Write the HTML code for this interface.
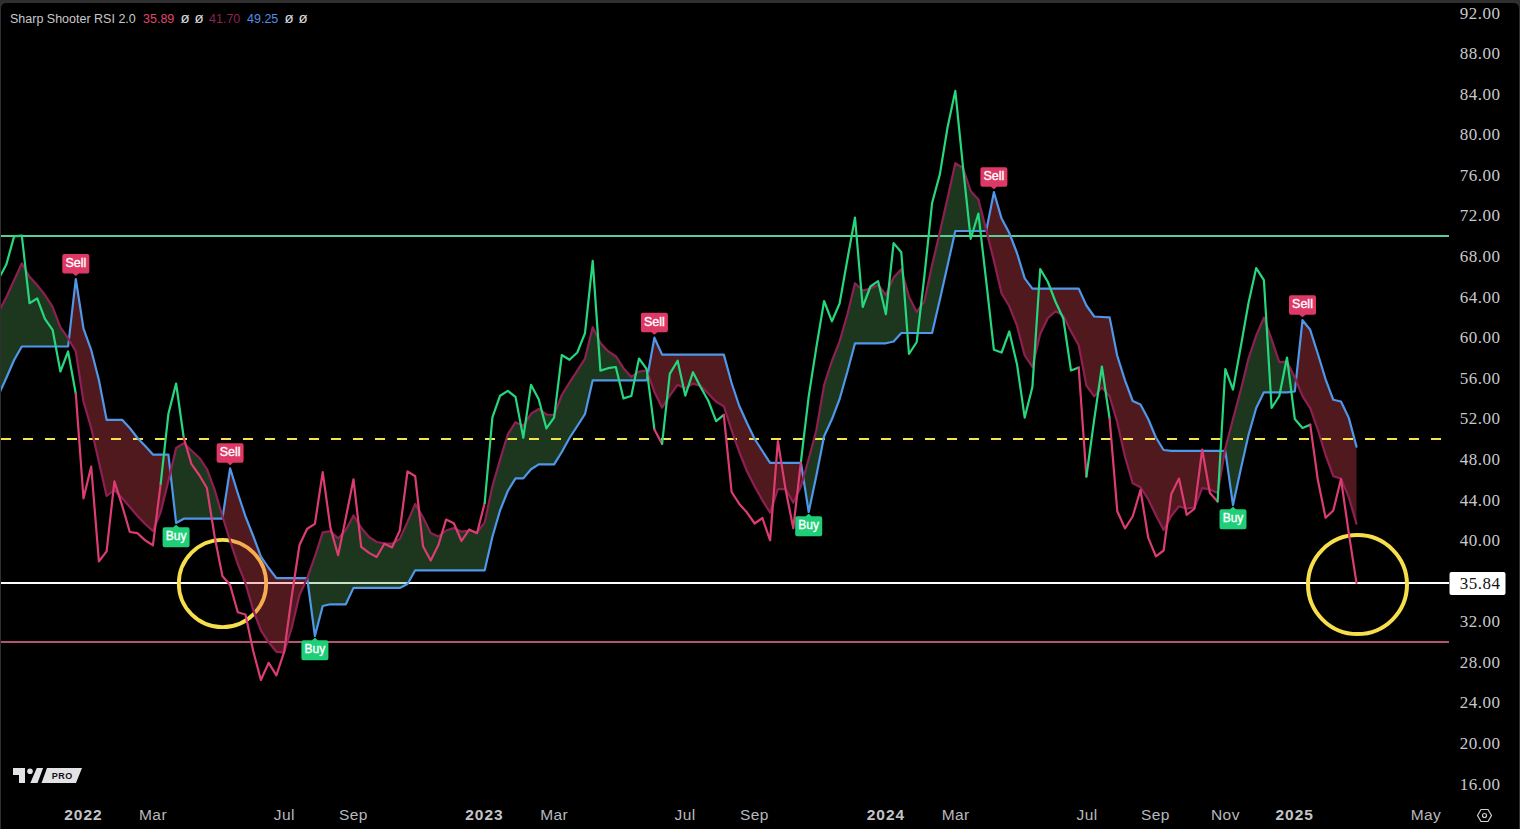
<!DOCTYPE html>
<html><head><meta charset="utf-8">
<style>
html,body{margin:0;padding:0;background:#303030;width:1520px;height:829px;overflow:hidden;position:relative}
#panel{position:absolute;left:1px;top:3px;width:1518px;height:826px;background:#000;border-radius:5px 5px 0 0}
svg{position:absolute;left:0;top:0}
.lbl{font-family:"Liberation Sans",sans-serif;font-size:12.5px;font-weight:normal;fill:#fff;text-anchor:middle;stroke:#fff;stroke-width:0.35px}
.ax{font-family:"Liberation Serif",serif;font-size:17px;letter-spacing:0.5px;fill:#c9c9cc;text-anchor:end}
.bx{font-family:"Liberation Sans",sans-serif;font-size:15.5px;letter-spacing:0.4px;fill:#b8b8bd;text-anchor:middle}
.bxb{font-family:"Liberation Sans",sans-serif;font-size:15.5px;letter-spacing:1px;font-weight:bold;fill:#c4c4c8;text-anchor:middle}
.leg{font-family:"Liberation Sans",sans-serif;font-size:12.5px}
</style></head><body>
<div id="panel"></div>
<svg width="1520" height="829" viewBox="0 0 1520 829">
<defs><clipPath id="cp"><rect x="1" y="3" width="1448" height="790"/></clipPath></defs>
<g clip-path="url(#cp)">
<rect x="1" y="582" width="1448" height="2" fill="#ffffff"/>
<circle cx="222.5" cy="583.5" r="43.7" fill="none" stroke="#f6df4a" stroke-width="3.8"/>
<circle cx="1357.5" cy="584.6" r="49.5" fill="none" stroke="#f6df4a" stroke-width="4"/>
<path d="M-1.4 312 L6.3 297.2 L14.1 280.3 L21.8 263.4 L29.5 276.7 L37.2 285.1 L44.9 294.8 L52.6 306.9 L60.4 327.4 L68.1 338.2 L68.9 339.6 L68.9 339.6 L68.1 346.5 L60.4 346.5 L52.6 346.5 L44.9 346.5 L37.2 346.5 L29.5 346.5 L21.8 346.5 L14.1 360 L6.3 378 L-1.4 395 Z" fill="rgba(84,165,90,0.333)"/>
<path d="M68.9 339.6 L75.8 351.5 L83.5 401.5 L91.2 428 L98.9 462 L106.6 496 L114.4 490 L122.1 498 L129.8 507 L137.5 516 L145.2 524 L152.9 531 L160.7 512 L168.4 481 L170.4 472.4 L170.4 472.4 L168.4 454.6 L160.7 454.6 L152.9 454.6 L145.2 446 L137.5 438 L129.8 428 L122.1 419.8 L114.4 419.8 L106.6 419.8 L98.9 380 L91.2 350 L83.5 328.6 L75.8 279 L68.9 339.6 Z" fill="rgba(240,75,90,0.333)"/>
<path d="M170.4 472.4 L176.1 448 L183.8 443.3 L191.5 450.5 L199.2 457.7 L206.9 469 L214.7 490 L222.4 516 L222.6 516.9 L222.6 516.9 L222.4 518.7 L214.7 518.7 L206.9 518.7 L199.2 518.7 L191.5 518.7 L183.8 518.7 L176.1 523 L170.4 472.4 Z" fill="rgba(84,165,90,0.333)"/>
<path d="M222.6 516.9 L230.1 541 L237.8 564 L245.5 583.4 L253.2 610 L260.9 630.3 L268.7 642.3 L276.4 651.8 L284.1 652.3 L291.8 627.5 L299.5 595 L307.2 578.2 L307.2 578.2 L299.5 578.2 L291.8 578.2 L284.1 578.2 L276.4 578.2 L268.7 568 L260.9 556.6 L253.2 536 L245.5 516.5 L237.8 493.3 L230.1 468.3 L222.6 516.9 Z" fill="rgba(240,75,90,0.333)"/>
<path d="M307.2 578.2 L307.2 578.2 L314.9 556.5 L322.7 532.4 L330.4 531.2 L338.1 538.4 L345.8 530 L353.5 515.5 L361.2 527.6 L369 537 L376.7 542 L384.4 543.3 L392.1 543.7 L399.8 538.9 L407.5 522 L415.2 503.9 L423 517.2 L430.7 532.9 L438.4 536.5 L446.1 530.5 L453.8 528.1 L461.5 531.7 L469.2 530.5 L477 532.5 L484.7 522.3 L492.4 486.2 L500.1 459.6 L507.8 434.3 L515.5 422.2 L523.3 425.8 L531 413.8 L538.7 409 L546.4 414.5 L554.1 415 L561.8 395 L569.5 382.7 L577.3 370.6 L585 358.6 L592.7 327.2 L600.4 342.9 L608.1 351.3 L615.8 356.2 L623.5 368.2 L631.3 377 L639 371.6 L646.7 370.3 L647.9 373.7 L647.9 373.7 L646.7 380.3 L639 380.3 L631.3 380.3 L623.5 380.3 L615.8 380.3 L608.1 380.3 L600.4 380.3 L592.7 380.3 L585 414 L577.3 426 L569.5 438 L561.8 452 L554.1 464.4 L546.4 464.4 L538.7 464.4 L531 469.3 L523.3 478.4 L515.5 478.4 L507.8 491 L500.1 510.3 L492.4 536.8 L484.7 570.3 L477 570.3 L469.2 570.3 L461.5 570.3 L453.8 570.3 L446.1 570.3 L438.4 570.3 L430.7 570.3 L423 570.3 L415.2 570.3 L407.5 584 L399.8 587.9 L392.1 587.9 L384.4 587.9 L376.7 587.9 L369 587.9 L361.2 587.9 L353.5 587.9 L345.8 604.3 L338.1 604.3 L330.4 604.3 L322.7 606 L314.9 636 L307.2 578.2 L307.2 578.2 Z" fill="rgba(84,165,90,0.333)"/>
<path d="M647.9 373.7 L654.4 392 L662.1 407.7 L669.8 395.6 L677.6 384.8 L685.3 388.4 L693 383.6 L700.7 386 L708.4 393.7 L716.1 401.7 L723.8 406.2 L731.6 430.3 L739.3 452 L747 471.3 L754.7 486.5 L762.4 500.3 L770.1 512.7 L777.9 489.2 L785.6 489 L793.3 502.6 L801 486.3 L803.4 477.9 L803.4 477.9 L801 462.8 L793.3 462.8 L785.6 462.8 L777.9 462.8 L770.1 462.8 L762.4 451 L754.7 439 L747 423 L739.3 406 L731.6 383 L723.8 354.6 L716.1 354.6 L708.4 354.6 L700.7 354.6 L693 354.6 L685.3 354.6 L677.6 354.6 L669.8 354.6 L662.1 354.6 L654.4 337.7 L647.9 373.7 Z" fill="rgba(240,75,90,0.333)"/>
<path d="M803.4 477.9 L808.7 459 L816.4 430 L824.1 385 L831.9 361 L839.6 341.4 L847.3 314.7 L855 283.2 L862.7 290.5 L870.4 288.6 L878.1 284.9 L885.9 295 L893.6 277.5 L901.3 269.3 L909 296.8 L916.7 312 L924.4 301.3 L932.1 265 L939.9 232 L947.6 198 L955.3 163.2 L963 168 L970.7 191 L978.4 199.4 L986.2 230 L986.3 230.4 L986.3 230.4 L986.2 231 L978.4 231 L970.7 231 L963 231 L955.3 231 L947.6 265.2 L939.9 299.6 L932.1 333 L924.4 333 L916.7 333 L909 333 L901.3 333 L893.6 341.5 L885.9 343.3 L878.1 343.3 L870.4 343.3 L862.7 343.3 L855 343.3 L847.3 372 L839.6 399 L831.9 419.3 L824.1 436.2 L816.4 475.5 L808.7 512 L803.4 477.9 Z" fill="rgba(84,165,90,0.333)"/>
<path d="M986.3 230.4 L993.9 260.7 L1001.6 293.5 L1009.3 306.3 L1017 325.7 L1024.7 355.5 L1032.4 367 L1040.2 334 L1047.9 318 L1055.6 311.2 L1063.3 315.6 L1071 331.5 L1078.7 345.3 L1086.4 385.5 L1094.2 396.4 L1101.9 387.4 L1109.6 396.3 L1117.3 422.5 L1125 456.8 L1132.7 483.3 L1140.5 487.3 L1148.2 499.2 L1155.9 515.2 L1163.6 530 L1171.3 516 L1179 506.3 L1186.7 508.7 L1194.5 507.5 L1202.2 488.2 L1209.9 489.4 L1217.6 493 L1224.9 450.8 L1224.9 450.8 L1217.6 450.8 L1209.9 450.8 L1202.2 450.8 L1194.5 450.8 L1186.7 450.8 L1179 450.8 L1171.3 450.8 L1163.6 450 L1155.9 437.5 L1148.2 419 L1140.5 404.6 L1132.7 401 L1125 380.3 L1117.3 356 L1109.6 317.4 L1101.9 317 L1094.2 316.5 L1086.4 305.5 L1078.7 288.6 L1071 288.6 L1063.3 288.6 L1055.6 288.6 L1047.9 288.6 L1040.2 288.6 L1032.4 288.7 L1024.7 278.4 L1017 253 L1009.3 233 L1001.6 218.6 L993.9 192.2 L986.3 230.4 Z" fill="rgba(240,75,90,0.333)"/>
<path d="M1224.9 450.8 L1225.3 448.6 L1233 419 L1240.8 390 L1248.5 358.6 L1256.2 335.6 L1263.9 317.6 L1271.6 339.3 L1279.3 362.2 L1287 361.7 L1294.8 377.4 L1296 380.3 L1296 380.3 L1294.8 391.5 L1287 392.3 L1279.3 392.3 L1271.6 392.3 L1263.9 392.3 L1256.2 408 L1248.5 435 L1240.8 469 L1233 505.1 L1225.3 450.8 L1224.9 450.8 Z" fill="rgba(84,165,90,0.333)"/>
<path d="M1296 380.3 L1302.5 396.2 L1310.2 408.2 L1317.9 430 L1325.6 455 L1333.3 476.2 L1341 478.6 L1348.8 497.2 L1356.5 523.7 L1356.5 446.6 L1348.8 417.9 L1341 401.5 L1333.3 399.8 L1325.6 379.3 L1317.9 354 L1310.2 329.8 L1302.5 320.2 L1296 380.3 Z" fill="rgba(240,75,90,0.333)"/>
<rect x="1" y="235" width="1448" height="2" fill="#58d094"/>
<line x1="1" y1="439" x2="1449" y2="439" stroke="#f5e44c" stroke-width="2" stroke-dasharray="10 12"/>
<rect x="1" y="641" width="1448" height="2" fill="#b4546f"/>
<g fill="none" stroke-width="2.2" stroke-linejoin="round" stroke-linecap="round">
<path d="M-1.4 395 L6.3 378 L14.1 360 L21.8 346.5 L29.5 346.5 L37.2 346.5 L44.9 346.5 L52.6 346.5 L60.4 346.5 L68.1 346.5 L75.8 279 L83.5 328.6 L91.2 350 L98.9 380 L106.6 419.8 L114.4 419.8 L122.1 419.8 L129.8 428 L137.5 438 L145.2 446 L152.9 454.6 L160.7 454.6 L168.4 454.6 L176.1 523 L183.8 518.7 L191.5 518.7 L199.2 518.7 L206.9 518.7 L214.7 518.7 L222.4 518.7 L230.1 468.3 L237.8 493.3 L245.5 516.5 L253.2 536 L260.9 556.6 L268.7 568 L276.4 578.2 L284.1 578.2 L291.8 578.2 L299.5 578.2 L307.2 578.2 L314.9 636 L322.7 606 L330.4 604.3 L338.1 604.3 L345.8 604.3 L353.5 587.9 L361.2 587.9 L369 587.9 L376.7 587.9 L384.4 587.9 L392.1 587.9 L399.8 587.9 L407.5 584 L415.2 570.3 L423 570.3 L430.7 570.3 L438.4 570.3 L446.1 570.3 L453.8 570.3 L461.5 570.3 L469.2 570.3 L477 570.3 L484.7 570.3 L492.4 536.8 L500.1 510.3 L507.8 491 L515.5 478.4 L523.3 478.4 L531 469.3 L538.7 464.4 L546.4 464.4 L554.1 464.4 L561.8 452 L569.5 438 L577.3 426 L585 414 L592.7 380.3 L600.4 380.3 L608.1 380.3 L615.8 380.3 L623.5 380.3 L631.3 380.3 L639 380.3 L646.7 380.3 L654.4 337.7 L662.1 354.6 L669.8 354.6 L677.6 354.6 L685.3 354.6 L693 354.6 L700.7 354.6 L708.4 354.6 L716.1 354.6 L723.8 354.6 L731.6 383 L739.3 406 L747 423 L754.7 439 L762.4 451 L770.1 462.8 L777.9 462.8 L785.6 462.8 L793.3 462.8 L801 462.8 L808.7 512 L816.4 475.5 L824.1 436.2 L831.9 419.3 L839.6 399 L847.3 372 L855 343.3 L862.7 343.3 L870.4 343.3 L878.1 343.3 L885.9 343.3 L893.6 341.5 L901.3 333 L909 333 L916.7 333 L924.4 333 L932.1 333 L939.9 299.6 L947.6 265.2 L955.3 231 L963 231 L970.7 231 L978.4 231 L986.2 231 L993.9 192.2 L1001.6 218.6 L1009.3 233 L1017 253 L1024.7 278.4 L1032.4 288.7 L1040.2 288.6 L1047.9 288.6 L1055.6 288.6 L1063.3 288.6 L1071 288.6 L1078.7 288.6 L1086.4 305.5 L1094.2 316.5 L1101.9 317 L1109.6 317.4 L1117.3 356 L1125 380.3 L1132.7 401 L1140.5 404.6 L1148.2 419 L1155.9 437.5 L1163.6 450 L1171.3 450.8 L1179 450.8 L1186.7 450.8 L1194.5 450.8 L1202.2 450.8 L1209.9 450.8 L1217.6 450.8 L1225.3 450.8 L1233 505.1 L1240.8 469 L1248.5 435 L1256.2 408 L1263.9 392.3 L1271.6 392.3 L1279.3 392.3 L1287 392.3 L1294.8 391.5 L1302.5 320.2 L1310.2 329.8 L1317.9 354 L1325.6 379.3 L1333.3 399.8 L1341 401.5 L1348.8 417.9 L1356.5 446.6" stroke="#4f97e8"/>
<path d="M-1.4 312 L6.3 297.2 L14.1 280.3 L21.8 263.4 L29.5 276.7 L37.2 285.1 L44.9 294.8 L52.6 306.9 L60.4 327.4 L68.1 338.2 L75.8 351.5 L83.5 401.5 L91.2 428 L98.9 462 L106.6 496 L114.4 490 L122.1 498 L129.8 507 L137.5 516 L145.2 524 L152.9 531 L160.7 512 L168.4 481 L176.1 448 L183.8 443.3 L191.5 450.5 L199.2 457.7 L206.9 469 L214.7 490 L222.4 516 L230.1 541 L237.8 564 L245.5 583.4 L253.2 610 L260.9 630.3 L268.7 642.3 L276.4 651.8 L284.1 652.3 L291.8 627.5 L299.5 595 L307.2 578.2 L314.9 556.5 L322.7 532.4 L330.4 531.2 L338.1 538.4 L345.8 530 L353.5 515.5 L361.2 527.6 L369 537 L376.7 542 L384.4 543.3 L392.1 543.7 L399.8 538.9 L407.5 522 L415.2 503.9 L423 517.2 L430.7 532.9 L438.4 536.5 L446.1 530.5 L453.8 528.1 L461.5 531.7 L469.2 530.5 L477 532.5 L484.7 522.3 L492.4 486.2 L500.1 459.6 L507.8 434.3 L515.5 422.2 L523.3 425.8 L531 413.8 L538.7 409 L546.4 414.5 L554.1 415 L561.8 395 L569.5 382.7 L577.3 370.6 L585 358.6 L592.7 327.2 L600.4 342.9 L608.1 351.3 L615.8 356.2 L623.5 368.2 L631.3 377 L639 371.6 L646.7 370.3 L654.4 392 L662.1 407.7 L669.8 395.6 L677.6 384.8 L685.3 388.4 L693 383.6 L700.7 386 L708.4 393.7 L716.1 401.7 L723.8 406.2 L731.6 430.3 L739.3 452 L747 471.3 L754.7 486.5 L762.4 500.3 L770.1 512.7 L777.9 489.2 L785.6 489 L793.3 502.6 L801 486.3 L808.7 459 L816.4 430 L824.1 385 L831.9 361 L839.6 341.4 L847.3 314.7 L855 283.2 L862.7 290.5 L870.4 288.6 L878.1 284.9 L885.9 295 L893.6 277.5 L901.3 269.3 L909 296.8 L916.7 312 L924.4 301.3 L932.1 265 L939.9 232 L947.6 198 L955.3 163.2 L963 168 L970.7 191 L978.4 199.4 L986.2 230 L993.9 260.7 L1001.6 293.5 L1009.3 306.3 L1017 325.7 L1024.7 355.5 L1032.4 367 L1040.2 334 L1047.9 318 L1055.6 311.2 L1063.3 315.6 L1071 331.5 L1078.7 345.3 L1086.4 385.5 L1094.2 396.4 L1101.9 387.4 L1109.6 396.3 L1117.3 422.5 L1125 456.8 L1132.7 483.3 L1140.5 487.3 L1148.2 499.2 L1155.9 515.2 L1163.6 530 L1171.3 516 L1179 506.3 L1186.7 508.7 L1194.5 507.5 L1202.2 488.2 L1209.9 489.4 L1217.6 493 L1225.3 448.6 L1233 419 L1240.8 390 L1248.5 358.6 L1256.2 335.6 L1263.9 317.6 L1271.6 339.3 L1279.3 362.2 L1287 361.7 L1294.8 377.4 L1302.5 396.2 L1310.2 408.2 L1317.9 430 L1325.6 455 L1333.3 476.2 L1341 478.6 L1348.8 497.2 L1356.5 523.7" stroke="#8e1f52"/>
<path d="M-1.4 279 L6.3 264.6 L14.1 236.4 L21.8 235.7 L29.5 303.2 L37.2 298.4 L44.9 318.9 L52.6 329.8 L60.4 371.5 L68.1 351.5 L75.8 393.7" stroke="#27d77d"/>
<path d="M75.8 393.7 L83.5 498.5 L91.2 466.5 L98.9 561.3 L106.6 551.3 L114.4 481.3 L122.1 505.4 L129.8 532 L137.5 533.2 L145.2 540.4 L152.9 545.3 L160.7 483.7" stroke="#db3d72"/>
<path d="M160.7 483.7 L168.4 413.8 L176.1 383.5 L183.8 438" stroke="#27d77d"/>
<path d="M183.8 438 L191.5 464.2 L199.2 475 L206.9 488 L214.7 537 L222.4 576 L230.1 585 L237.8 612.3 L245.5 614.5 L253.2 651 L260.9 680 L268.7 662.8 L276.4 675.3 L284.1 652 L291.8 596 L299.5 545 L307.2 528.8 L314.9 523.9 L322.7 472.1 L330.4 527.6 L338.1 555.3 L345.8 517.9 L353.5 479.3 L361.2 546.9 L369 552.9 L376.7 557 L384.4 543.7 L392.1 547.4 L399.8 530.5 L407.5 471.4 L415.2 476.2 L423 546.2 L430.7 560.6 L438.4 545 L446.1 519.6 L453.8 523.2 L461.5 541 L469.2 529.5 L477 533.2 L484.7 503" stroke="#db3d72"/>
<path d="M484.7 503 L492.4 417.4 L500.1 395.7 L507.8 390.9 L515.5 396.9 L523.3 437.9 L531 384.8 L538.7 399.3 L546.4 428.4 L554.1 417.6 L561.8 355 L569.5 359.8 L577.3 352.5 L585 333.2 L592.7 260.9 L600.4 370.6 L608.1 368.2 L615.8 367 L623.5 398.4 L631.3 396 L639 358.5 L646.7 369.1 L654.4 429.4" stroke="#27d77d"/>
<path d="M654.4 429.4 L662.1 443.9" stroke="#db3d72"/>
<path d="M662.1 443.9 L669.8 373.9 L677.6 360.7 L685.3 395.6 L693 372.2 L700.7 387.2 L708.4 401 L716.1 421.2 L723.8 414.8" stroke="#27d77d"/>
<path d="M723.8 414.8 L731.6 492 L739.3 503.9 L747 512.6 L754.7 523.5 L762.4 518 L770.1 540.3 L777.9 441.1 L785.6 489.5 L793.3 528.2 L801 461" stroke="#db3d72"/>
<path d="M801 461 L808.7 396.4 L816.4 347 L824.1 301 L831.9 321.4 L839.6 303.5 L847.3 260 L855 217.5 L862.7 307 L870.4 286.5 L878.1 281.2 L885.9 314.2 L893.6 243.1 L901.3 252.2 L909 354 L916.7 342 L924.4 276 L932.1 203 L939.9 174.1 L947.6 127 L955.3 90.9 L963 166.9 L970.7 238.8 L978.4 213.6 L986.2 281 L993.9 349.8 L1001.6 352.5 L1009.3 331.5 L1017 364.2 L1024.7 417.6 L1032.4 387.1 L1040.2 269 L1047.9 282 L1055.6 302 L1063.3 318.5 L1071 370.5 L1078.7 367.5" stroke="#27d77d"/>
<path d="M1078.7 367.5 L1086.4 476.7" stroke="#db3d72"/>
<path d="M1086.4 476.7 L1094.2 419.6 L1101.9 366.5 L1109.6 418.6" stroke="#27d77d"/>
<path d="M1109.6 418.6 L1117.3 511.2 L1125 528.4 L1132.7 516.5 L1140.5 490 L1148.2 537.7 L1155.9 556.3 L1163.6 550.5 L1171.3 494 L1179 478.6 L1186.7 514.8 L1194.5 508.7 L1202.2 449.6 L1209.9 493 L1217.6 501.5" stroke="#db3d72"/>
<path d="M1217.6 501.5 L1225.3 369 L1233 389.6 L1240.8 346.5 L1248.5 303 L1256.2 268.1 L1263.9 280.2 L1271.6 408 L1279.3 396 L1287 357.5 L1294.8 419 L1302.5 428 L1310.2 424.7" stroke="#27d77d"/>
<path d="M1310.2 424.7 L1317.9 480.3 L1325.6 517.7 L1333.3 510.5 L1341 479.1 L1348.8 533.4 L1356.5 582.8" stroke="#db3d72"/>
</g>
<path d="M62.3 256 Q62.3 254 64.3 254 L87.3 254 Q89.3 254 89.3 256 L89.3 271.5 Q89.3 273.5 87.3 273.5 L78.8 273.5 L75.8 276 L72.8 273.5 L64.3 273.5 Q62.3 273.5 62.3 271.5 Z" fill="#de3866"/>
<text x="75.8" y="267" class="lbl">Sell</text>
<path d="M216.6 445.3 Q216.6 443.3 218.6 443.3 L241.6 443.3 Q243.6 443.3 243.6 445.3 L243.6 460.8 Q243.6 462.8 241.6 462.8 L233.1 462.8 L230.1 465.3 L227.1 462.8 L218.6 462.8 Q216.6 462.8 216.6 460.8 Z" fill="#de3866"/>
<text x="230.1" y="456.3" class="lbl">Sell</text>
<path d="M640.9 314.7 Q640.9 312.7 642.9 312.7 L665.9 312.7 Q667.9 312.7 667.9 314.7 L667.9 330.2 Q667.9 332.2 665.9 332.2 L657.4 332.2 L654.4 334.7 L651.4 332.2 L642.9 332.2 Q640.9 332.2 640.9 330.2 Z" fill="#de3866"/>
<text x="654.4" y="325.7" class="lbl">Sell</text>
<path d="M980.4 169.2 Q980.4 167.2 982.4 167.2 L1005.4 167.2 Q1007.4 167.2 1007.4 169.2 L1007.4 184.7 Q1007.4 186.7 1005.4 186.7 L996.9 186.7 L993.9 189.2 L990.9 186.7 L982.4 186.7 Q980.4 186.7 980.4 184.7 Z" fill="#de3866"/>
<text x="993.9" y="180.2" class="lbl">Sell</text>
<path d="M1289 297.2 Q1289 295.2 1291 295.2 L1314 295.2 Q1316 295.2 1316 297.2 L1316 312.7 Q1316 314.7 1314 314.7 L1305.5 314.7 L1302.5 317.2 L1299.5 314.7 L1291 314.7 Q1289 314.7 1289 312.7 Z" fill="#de3866"/>
<text x="1302.5" y="308.2" class="lbl">Sell</text>
<path d="M162.6 529.2 Q162.6 527.2 164.6 527.2 L173.1 527.2 L176.1 524.7 L179.1 527.2 L187.6 527.2 Q189.6 527.2 189.6 529.2 L189.6 545.2 Q189.6 547.2 187.6 547.2 L164.6 547.2 Q162.6 547.2 162.6 545.2 Z" fill="#1ecf78"/>
<text x="176.1" y="540" class="lbl" style="font-size:12px">Buy</text>
<path d="M301.4 642.2 Q301.4 640.2 303.4 640.2 L311.9 640.2 L314.9 637.7 L317.9 640.2 L326.4 640.2 Q328.4 640.2 328.4 642.2 L328.4 658.2 Q328.4 660.2 326.4 660.2 L303.4 660.2 Q301.4 660.2 301.4 658.2 Z" fill="#1ecf78"/>
<text x="314.9" y="653" class="lbl" style="font-size:12px">Buy</text>
<path d="M795.2 518.2 Q795.2 516.2 797.2 516.2 L805.7 516.2 L808.7 513.7 L811.7 516.2 L820.2 516.2 Q822.2 516.2 822.2 518.2 L822.2 534.2 Q822.2 536.2 820.2 536.2 L797.2 536.2 Q795.2 536.2 795.2 534.2 Z" fill="#1ecf78"/>
<text x="808.7" y="529" class="lbl" style="font-size:12px">Buy</text>
<path d="M1219.5 511.3 Q1219.5 509.3 1221.5 509.3 L1230 509.3 L1233 506.8 L1236 509.3 L1244.5 509.3 Q1246.5 509.3 1246.5 511.3 L1246.5 527.3 Q1246.5 529.3 1244.5 529.3 L1221.5 529.3 Q1219.5 529.3 1219.5 527.3 Z" fill="#1ecf78"/>
<text x="1233" y="522.1" class="lbl" style="font-size:12px">Buy</text>
</g>
<text x="1500.5" y="18.5" class="ax">92.00</text>
<text x="1500.5" y="59.1" class="ax">88.00</text>
<text x="1500.5" y="99.7" class="ax">84.00</text>
<text x="1500.5" y="140.2" class="ax">80.00</text>
<text x="1500.5" y="180.8" class="ax">76.00</text>
<text x="1500.5" y="221.4" class="ax">72.00</text>
<text x="1500.5" y="262" class="ax">68.00</text>
<text x="1500.5" y="302.6" class="ax">64.00</text>
<text x="1500.5" y="343.1" class="ax">60.00</text>
<text x="1500.5" y="383.7" class="ax">56.00</text>
<text x="1500.5" y="424.3" class="ax">52.00</text>
<text x="1500.5" y="464.9" class="ax">48.00</text>
<text x="1500.5" y="505.5" class="ax">44.00</text>
<text x="1500.5" y="546" class="ax">40.00</text>
<text x="1500.5" y="627.2" class="ax">32.00</text>
<text x="1500.5" y="667.8" class="ax">28.00</text>
<text x="1500.5" y="708.4" class="ax">24.00</text>
<text x="1500.5" y="748.9" class="ax">20.00</text>
<text x="1500.5" y="789.5" class="ax">16.00</text>
<rect x="1449.5" y="572" width="56" height="23" rx="2" fill="#ffffff"/>
<text x="1500.5" y="589" class="ax" style="fill:#131313">35.84</text>
<text x="83.5" y="820" class="bxb">2022</text>
<text x="153" y="820" class="bx">Mar</text>
<text x="284.3" y="820" class="bx">Jul</text>
<text x="353.5" y="820" class="bx">Sep</text>
<text x="484.5" y="820" class="bxb">2023</text>
<text x="554.2" y="820" class="bx">Mar</text>
<text x="685" y="820" class="bx">Jul</text>
<text x="754.4" y="820" class="bx">Sep</text>
<text x="886" y="820" class="bxb">2024</text>
<text x="955.6" y="820" class="bx">Mar</text>
<text x="1087" y="820" class="bx">Jul</text>
<text x="1155.5" y="820" class="bx">Sep</text>
<text x="1225.4" y="820" class="bx">Nov</text>
<text x="1294.7" y="820" class="bxb">2025</text>
<text x="1426" y="820" class="bx">May</text>
<path d="M1477.5 815.5 L1481 809.5 L1488 809.5 L1491.5 815.5 L1488 821.5 L1481 821.5 Z" fill="none" stroke="#d0d0d4" stroke-width="1.2"/>
<circle cx="1484.5" cy="815.5" r="2" fill="none" stroke="#d0d0d4" stroke-width="1.2"/>
<g fill="#e3e3e6"><path d="M13 768 H25 V783 H19 V775 H13 Z"/><circle cx="30" cy="771.3" r="2.8"/><path d="M36.8 768 H43.1 L37.5 783 H30.3 Z"/><path d="M47 768 H82 L76 783 H41.5 Z"/></g>
<text x="62.2" y="778.8" style="font-family:'Liberation Sans',sans-serif;font-size:9px;font-weight:bold;fill:#111;text-anchor:middle;letter-spacing:0.5px">PRO</text>
<text x="10" y="23" class="leg"><tspan fill="#c8c8cc">Sharp Shooter RSI 2.0</tspan><tspan x="143" fill="#e0456e">35.89</tspan><tspan x="180.5" fill="#d8d8dc" font-size="15">ø</tspan><tspan x="194.5" fill="#d8d8dc" font-size="15">ø</tspan><tspan x="209" fill="#8a2450">41.70</tspan><tspan x="247" fill="#4f8fe6">49.25</tspan><tspan x="284.5" fill="#d8d8dc" font-size="15">ø</tspan><tspan x="298.5" fill="#d8d8dc" font-size="15">ø</tspan></text>
</svg>
</body></html>
